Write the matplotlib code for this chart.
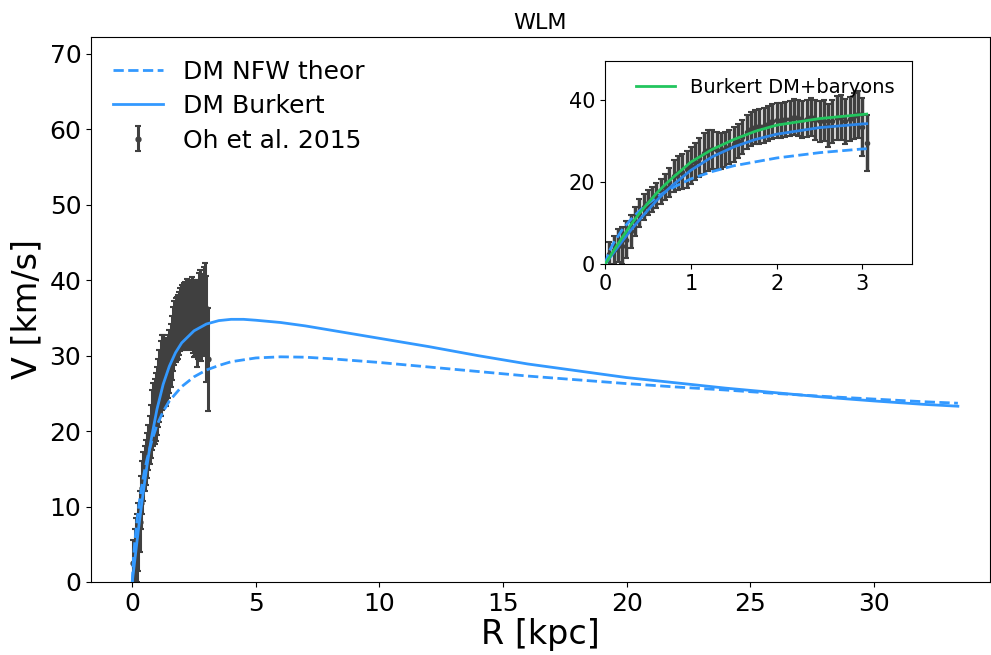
import numpy as np
import matplotlib
matplotlib.use("Agg")
import matplotlib.pyplot as plt

# Oh et al. 2015 rotation curve of WLM
r_obs = [0.05, 0.10, 0.15, 0.20, 0.25, 0.30, 0.35, 0.40, 0.45, 0.50,
         0.55, 0.60, 0.65, 0.70, 0.75, 0.80, 0.85, 0.90, 0.95, 1.00,
         1.05, 1.10, 1.15, 1.20, 1.25, 1.30, 1.35, 1.40, 1.45, 1.50,
         1.55, 1.60, 1.65, 1.70, 1.75, 1.80, 1.85, 1.90, 1.95, 2.00,
         2.05, 2.10, 2.15, 2.20, 2.25, 2.30, 2.35, 2.40, 2.45, 2.50,
         2.55, 2.60, 2.65, 2.70, 2.75, 2.80, 2.85, 2.90, 2.95, 3.00, 3.05]
v_obs = [2.5, 3.5, 4.5, 4.5, 6.0, 8.0, 10.5, 12.5, 14.0, 15.0,
         15.8, 16.8, 17.8, 18.8, 20.0, 21.5, 22.2, 22.6, 23.2, 24.0,
         25.0, 26.0, 27.0, 27.8, 28.0, 27.8, 27.6, 28.0, 28.6, 29.2,
         30.0, 31.0, 32.2, 33.0, 33.4, 33.6, 33.8, 34.3, 34.8, 35.1,
         35.0, 35.3, 35.5, 35.9, 35.6, 35.2, 35.5, 35.8, 35.2, 34.8,
         35.0, 33.8, 34.8, 35.6, 35.8, 34.8, 35.4, 36.2, 36.5, 33.5, 29.5]
e_obs = [3.0, 3.5, 4.0, 4.5, 4.5, 4.0, 3.5, 3.5, 3.2, 3.0,
         3.0, 3.0, 3.0, 3.2, 3.5, 4.0, 4.2, 4.3, 4.5, 4.5,
         4.5, 4.8, 5.0, 5.0, 4.8, 4.5, 4.3, 4.2, 4.2, 4.2,
         4.2, 4.2, 4.2, 4.2, 4.2, 4.2, 4.2, 4.2, 4.2, 4.3,
         4.3, 4.3, 4.3, 4.3, 4.4, 4.5, 4.5, 4.6, 4.8, 5.0,
         5.0, 5.3, 5.2, 5.4, 5.5, 5.5, 5.4, 5.6, 5.8, 7.0, 6.8]

# model curves
r_nfw = [0, 0.05, 0.1, 0.2, 0.3, 0.4, 0.5, 0.6, 0.7, 0.8, 1.0, 1.25, 1.5,
         2.0, 2.5, 3.0, 3.5, 4, 5, 6, 7, 8, 10, 12, 14, 16, 18, 20, 22,
         24, 26, 28, 30, 32, 33.4]
v_nfw = [0, 3.2, 5.2, 8.4, 10.9, 13.0, 14.8, 16.3, 17.6, 18.8, 20.8, 22.6, 24.0,
         25.9, 27.2, 28.1, 28.7, 29.2, 29.7, 29.85, 29.8, 29.6, 29.1, 28.5, 27.9,
         27.3, 26.8, 26.3, 25.85, 25.45, 25.0, 24.6, 24.25, 23.9, 23.7]

r_bur = [0, 0.1, 0.2, 0.3, 0.4, 0.5, 0.6, 0.7, 0.8, 1.0, 1.25, 1.5, 1.75,
         2.0, 2.5, 3.0, 3.5, 4.0, 4.5, 5, 6, 7, 8, 9, 10, 12, 14, 16, 18,
         20, 22, 24, 26, 28, 30, 32, 33.4]
v_bur = [0, 2.8, 5.6, 8.3, 10.8, 13.2, 15.5, 17.6, 19.5, 22.9, 26.2, 28.6, 30.4,
         31.7, 33.3, 34.2, 34.65, 34.82, 34.82, 34.7, 34.4, 33.95, 33.4, 32.85, 32.3,
         31.2, 30.0, 28.9, 28.0, 27.1, 26.4, 25.7, 25.1, 24.5, 24.0, 23.55, 23.3]

r_bar = [0, 0.1, 0.2, 0.3, 0.4, 0.5, 0.6, 0.7, 0.8, 1.0, 1.25, 1.5, 1.75,
         2.0, 2.5, 3.0, 3.05]
v_bar = [0, 3.3, 6.5, 9.6, 12.4, 14.9, 17.3, 19.4, 21.3, 24.9, 28.0, 30.4, 32.4,
         33.9, 35.5, 36.5, 36.6]

blue = '#3399ff'
green = '#22c55e'
grey = '#404040'

fig = plt.figure(figsize=(9.91, 6.55), dpi=100)
ax = fig.add_axes([0.0918, 0.1115, 0.9072, 0.832])

ax.plot(r_nfw, v_nfw, '--', color=blue, lw=2, zorder=3, label='DM NFW theor')
ax.plot(r_bur, v_bur, '-', color=blue, lw=2, zorder=3, label='DM Burkert')
ax.errorbar(r_obs, v_obs, yerr=e_obs, fmt='o', color=grey, ms=3.5,
            elinewidth=2.2, capsize=2.5, capthick=1.5, zorder=1,
            label='Oh et al. 2015')
ax.set_xlim(-1.67, 34.7)
ax.set_ylim(0, 72.25)
ax.set_xticks([0, 5, 10, 15, 20, 25, 30])
ax.set_yticks([0, 10, 20, 30, 40, 50, 60, 70])
ax.tick_params(labelsize=18)
ax.set_xlabel('R [kpc]', fontsize=24, labelpad=2)
ax.set_ylabel('V [km/s]', fontsize=24)
ax.set_title('WLM', fontsize=16)
ax.legend(loc='upper left', frameon=False, fontsize=18, labelspacing=0.42)

# inset
ins = fig.add_axes([0.6105, 0.5965, 0.310, 0.3108])
ins.errorbar(r_obs, v_obs, yerr=e_obs, fmt='o', color=grey, ms=3,
             elinewidth=2.5, capsize=2.5, capthick=1.5, zorder=1)
ins.plot([r for r in r_nfw if r <= 3.05] + [3.05],
         [v for r, v in zip(r_nfw, v_nfw) if r <= 3.05] + [28.15],
         '--', color=blue, lw=2, zorder=3)
ins.plot([r for r in r_bur if r <= 3.05] + [3.05],
         [v for r, v in zip(r_bur, v_bur) if r <= 3.05] + [34.25],
         '-', color='#2b85e8', lw=2, zorder=3)
ins.plot(r_bar, v_bar, '-', color=green, lw=2, zorder=3,
         label='Burkert DM+baryons')
ins.set_xlim(0, 3.58)
ins.set_ylim(0, 49.6)
ins.set_xticks([0, 1, 2, 3])
ins.set_yticks([0, 20, 40])
ins.tick_params(labelsize=15)
ins.legend(loc='upper right', frameon=False, fontsize=14)

fig.savefig('out.png', dpi=100)
